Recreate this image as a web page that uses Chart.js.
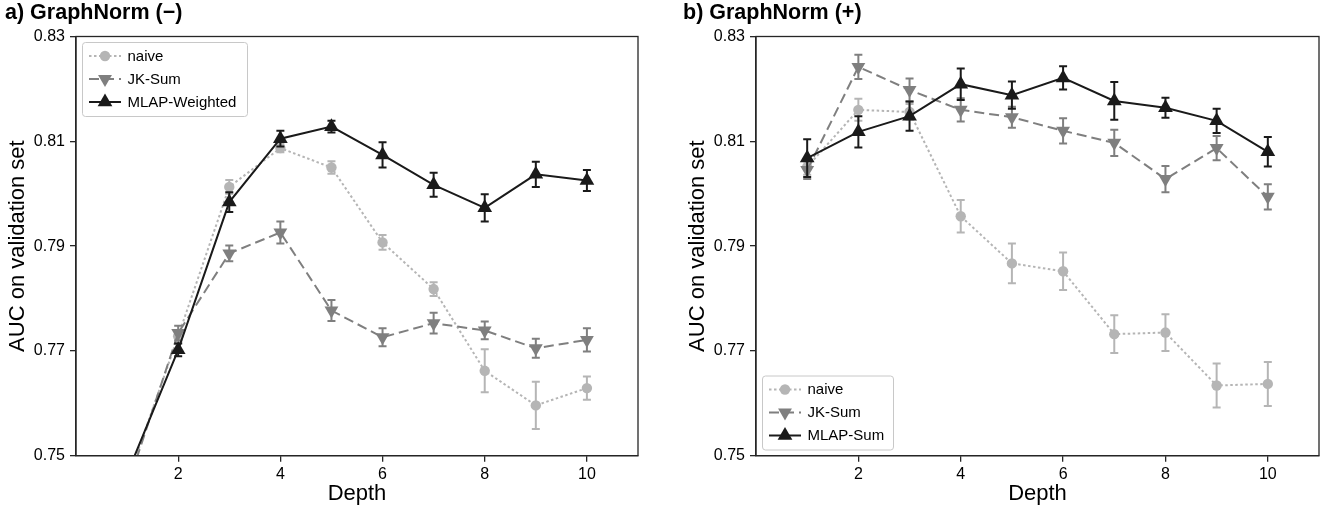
<!DOCTYPE html>
<html>
<head>
<meta charset="utf-8">
<script src="https://cdn.jsdelivr.net/npm/chart.js@4.4.1/dist/chart.umd.min.js"></script>
<style>
  html, body { margin: 0; padding: 0; background: #ffffff; }
  #wrap { position: relative; width: 1333px; height: 510px; overflow: hidden; }
  canvas { position: absolute; top: 0; }
</style>
</head>
<body>
<div id="wrap">
  <canvas id="chartA" width="680" height="510" style="left:0px"></canvas>
  <canvas id="chartB" width="653" height="510" style="left:680px"></canvas>
</div>
<script>
// ---- data ----
const depths = [1, 2, 3, 4, 5, 6, 7, 8, 9, 10];
const xTicks = [2, 4, 6, 8, 10];
const yTicks = [0.75, 0.77, 0.79, 0.81, 0.83];

// panel a) GraphNorm (−)
const naiveA    = [0.7450, 0.7728, 0.8013, 0.8087, 0.8050, 0.7907, 0.7818, 0.7662, 0.7596, 0.7629];
const naiveAErr = [0.0012, 0.0012, 0.0013, 0.0008, 0.0012, 0.0014, 0.0013, 0.0041, 0.0045, 0.0022];
const jkA       = [0.7440, 0.7734, 0.7886, 0.7926, 0.7777, 0.7726, 0.7753, 0.7739, 0.7705, 0.7721];
const jkAErr    = [0.0014, 0.0014, 0.0015, 0.0021, 0.0020, 0.0017, 0.0020, 0.0017, 0.0018, 0.0022];
const mlapA     = [0.7465, 0.7702, 0.7984, 0.8105, 0.8128, 0.8074, 0.8017, 0.7973, 0.8037, 0.8025];
const mlapAErr  = [0.0015, 0.0012, 0.0019, 0.0015, 0.0011, 0.0024, 0.0023, 0.0026, 0.0024, 0.0020];

// panel b) GraphNorm (+)
const naiveB    = [0.8051, 0.8160, 0.8156, 0.7957, 0.7867, 0.7852, 0.7732, 0.7735, 0.7634, 0.7637];
const naiveBErr = [0.0015, 0.0021, 0.0015, 0.0031, 0.0038, 0.0036, 0.0036, 0.0035, 0.0042, 0.0042];
const jkB       = [0.8045, 0.8242, 0.8198, 0.8160, 0.8146, 0.8120, 0.8097, 0.8028, 0.8087, 0.7994];
const jkBErr    = [0.0017, 0.0023, 0.0022, 0.0022, 0.0020, 0.0024, 0.0025, 0.0025, 0.0023, 0.0024];
const mlapB     = [0.8068, 0.8118, 0.8148, 0.8209, 0.8188, 0.8221, 0.8177, 0.8164, 0.8139, 0.8080];
const mlapBErr  = [0.0036, 0.0030, 0.0028, 0.0030, 0.0026, 0.0022, 0.0036, 0.0019, 0.0023, 0.0028];

// ---- styling ----
const FONT = '"Liberation Sans", Arial, Helvetica, sans-serif';
Chart.defaults.font.family = FONT;
Chart.defaults.color = '#000000';

const AXIS = '#262626';
const STYLE = {
  naive: { color: '#b5b5b5', dash: [2.5, 2.5], point: 'circle',   radius: 5.2, rot: 0 },
  jk:    { color: '#7f7f7f', dash: [10, 5],    point: 'triangle', radius: 8,   rot: 180 },
  mlap:  { color: '#1a1a1a', dash: [],         point: 'triangle', radius: 8.5, rot: 0 }
};

function makeDataset(label, values, errors, st, order) {
  return {
    label: label,
    data: depths.map((d, i) => ({ x: d, y: values[i] })),
    errors: errors,
    borderColor: st.color,
    backgroundColor: st.color,
    borderWidth: 2,
    borderDash: st.dash,
    pointStyle: st.point,
    pointRadius: st.radius,
    pointHoverRadius: st.radius,
    pointRotation: st.rot,
    pointBorderWidth: 0,
    pointBackgroundColor: st.color,
    tension: 0,
    fill: false,
    order: order,
    markerStyle: st
  };
}

// vertical error bars with caps, drawn beneath each series' line and markers
const errorBarPlugin = {
  id: 'errorBars',
  beforeDatasetDraw(chart, args) {
    const ds = chart.data.datasets[args.index];
    if (!ds.errors) return;
    const { ctx, chartArea: a, scales: { x, y } } = chart;
    ctx.save();
    ctx.beginPath();
    ctx.rect(a.left, a.top, a.right - a.left, a.bottom - a.top);
    ctx.clip();
    ctx.strokeStyle = ds.borderColor;
    ctx.lineWidth = 2;
    ctx.setLineDash([]);
    const cap = 4;
    ds.data.forEach((p, i) => {
      const e = ds.errors[i];
      const px = x.getPixelForValue(p.x);
      const y1 = y.getPixelForValue(p.y + e);
      const y2 = y.getPixelForValue(p.y - e);
      ctx.beginPath();
      ctx.moveTo(px, y1); ctx.lineTo(px, y2);
      ctx.moveTo(px - cap, y1); ctx.lineTo(px + cap, y1);
      ctx.moveTo(px - cap, y2); ctx.lineTo(px + cap, y2);
      ctx.stroke();
    });
    ctx.restore();
  }
};

// closed box around the plotting area
const framePlugin = {
  id: 'frame',
  afterDraw(chart) {
    const { ctx, chartArea: a } = chart;
    ctx.save();
    ctx.strokeStyle = AXIS;
    ctx.lineWidth = 1.3;
    ctx.strokeRect(a.left, a.top, a.right - a.left, a.bottom - a.top);
    ctx.restore();
  }
};

function drawMarker(ctx, st, x, y) {
  ctx.save();
  ctx.fillStyle = st.color;
  ctx.beginPath();
  if (st.point === 'circle') {
    ctx.arc(x, y, st.radius, 0, Math.PI * 2);
  } else {
    let rad = st.rot * Math.PI / 180;
    for (let k = 0; k < 3; k++) {
      const px = x + Math.sin(rad) * st.radius;
      const py = y - Math.cos(rad) * st.radius;
      if (k === 0) ctx.moveTo(px, py); else ctx.lineTo(px, py);
      rad += 2 * Math.PI / 3;
    }
    ctx.closePath();
  }
  ctx.fill();
  ctx.restore();
}

// legend with line-and-marker samples
const sampleLegendPlugin = {
  id: 'sampleLegend',
  afterDraw(chart, args, opts) {
    const { ctx } = chart;
    const rows = chart.data.datasets.slice().sort((a, b) => b.order - a.order);
    ctx.save();
    ctx.beginPath();
    ctx.roundRect(opts.x, opts.y, opts.width, opts.height, 3);
    ctx.fillStyle = 'rgba(255,255,255,0.85)';
    ctx.fill();
    ctx.strokeStyle = '#c8c8c8';
    ctx.lineWidth = 1;
    ctx.stroke();
    rows.forEach((ds, i) => {
      const cy = opts.y + 13.5 + i * 23;
      const x0 = opts.x + 6.5, x1 = opts.x + 38.5, xm = opts.x + 22.5;
      ctx.strokeStyle = ds.borderColor;
      ctx.lineWidth = 2;
      ctx.setLineDash(ds.borderDash);
      ctx.beginPath();
      ctx.moveTo(x0, cy); ctx.lineTo(x1, cy);
      ctx.stroke();
      ctx.setLineDash([]);
      drawMarker(ctx, ds.markerStyle, xm, cy);
      ctx.fillStyle = '#000000';
      ctx.font = '15px ' + FONT;
      ctx.textBaseline = 'middle';
      ctx.textAlign = 'left';
      ctx.fillText(ds.label, opts.x + 45, cy + 0.5);
    });
    ctx.restore();
  }
};

const panelTitlePlugin = {
  id: 'panelTitle',
  afterDraw(chart, args, opts) {
    const { ctx } = chart;
    ctx.save();
    ctx.fillStyle = '#000000';
    ctx.font = 'bold 21.5px ' + FONT;
    ctx.textBaseline = 'alphabetic';
    ctx.textAlign = 'left';
    ctx.fillText(opts.text, opts.x, 19);
    ctx.restore();
  }
};

function makeChart(canvasId, title, titleX, datasets, legendBox, rightPad) {
  return new Chart(document.getElementById(canvasId), {
    type: 'line',
    data: { datasets: datasets },
    plugins: [errorBarPlugin, framePlugin, sampleLegendPlugin, panelTitlePlugin],
    options: {
      responsive: false,
      animation: false,
      devicePixelRatio: 1,
      layout: { padding: { left: 0, top: 36.5, right: rightPad, bottom: 0 } },
      plugins: {
        legend: { display: false },
        tooltip: { enabled: false },
        sampleLegend: legendBox,
        panelTitle: { text: title, x: titleX }
      },
      scales: {
        x: {
          type: 'linear',
          min: 0, max: 11,
          afterBuildTicks: (s) => { s.ticks = xTicks.map(v => ({ value: v })); },
          afterFit: (s) => { s.height = 54.3; },
          ticks: { font: { size: 16 }, color: '#000', padding: 3, maxRotation: 0,
                   callback: (v) => String(v) },
          grid: { display: true, drawOnChartArea: false, drawTicks: true, tickLength: 6,
                  color: AXIS, lineWidth: 1.3 },
          border: { display: true, color: AXIS, width: 1.3 },
          title: { display: true, text: 'Depth', font: { size: 22 }, color: '#000',
                   padding: { top: 0, bottom: 3 } }
        },
        y: {
          type: 'linear',
          min: 0.75, max: 0.83,
          afterBuildTicks: (s) => { s.ticks = yTicks.map(v => ({ value: v })); },
          afterFit: (s) => { s.width = 76; },
          ticks: { font: { size: 16 }, color: '#000', padding: 5,
                   callback: (v) => v.toFixed(2) },
          grid: { display: true, drawOnChartArea: false, drawTicks: true, tickLength: 6,
                  color: AXIS, lineWidth: 1.3 },
          border: { display: true, color: AXIS, width: 1.3 },
          title: { display: true, text: 'AUC on validation set', font: { size: 22 }, color: '#000',
                   padding: { top: 5, bottom: 0 } }
        }
      }
    }
  });
}

makeChart('chartA', 'a) GraphNorm (\u2212)', 5, [
  makeDataset('naive', naiveA, naiveAErr, STYLE.naive, 2),
  makeDataset('JK-Sum', jkA, jkAErr, STYLE.jk, 1),
  makeDataset('MLAP-Weighted', mlapA, mlapAErr, STYLE.mlap, 0)
], { x: 82.5, y: 42.5, width: 165, height: 74 }, 42);

makeChart('chartB', 'b) GraphNorm (+)', 3, [
  makeDataset('naive', naiveB, naiveBErr, STYLE.naive, 2),
  makeDataset('JK-Sum', jkB, jkBErr, STYLE.jk, 1),
  makeDataset('MLAP-Sum', mlapB, mlapBErr, STYLE.mlap, 0)
], { x: 82.5, y: 376, width: 131, height: 74 }, 14);
</script>
</body>
</html>
